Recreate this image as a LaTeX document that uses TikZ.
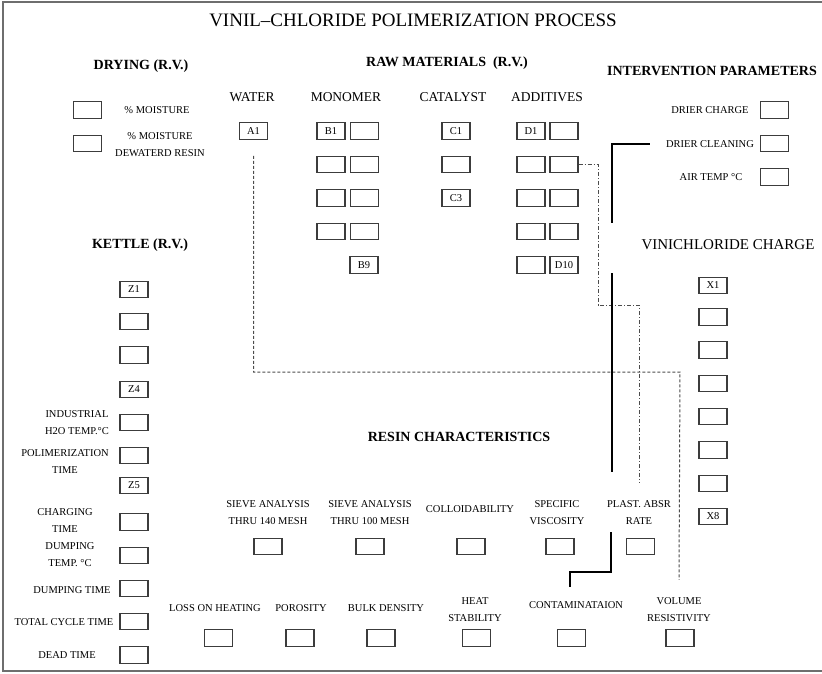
\documentclass[tikz,border=0pt]{standalone}
\usepackage{fontspec}
\setmainfont{Liberation Serif}
\usetikzlibrary{positioning}
\definecolor{boxgray}{RGB}{60,60,60}
\definecolor{framegray}{RGB}{110,110,110}

\begin{document}
\begin{tikzpicture}[x=1pt, y=-1pt,
  every node/.style={font=\fontsize{10.5}{17}\selectfont, text=black},
  valbox/.style={draw=boxgray, line width=1.3pt, minimum width=28pt, minimum height=16.5pt, inner sep=0pt},
  lbl/.style={align=center, inner sep=1pt},
  heading/.style={font=\fontsize{14}{16}\selectfont\bfseries, text=black},
  colhead/.style={font=\fontsize{13.5}{16}\selectfont},
  dashline/.style={draw=black!70, dash pattern=on 3pt off 2pt, line width=1pt},
  dotline/.style={draw=black!70, dash pattern=on 4pt off 2pt on 1pt off 2pt, line width=1pt},
  thickline/.style={draw=black, line width=2.8pt}]
\useasboundingbox (0,0) rectangle (822,673);
\draw[framegray, line width=1.6pt] (822,2) -- (3,2) -- (3,671) -- (822,671);

\node[font=\fontsize{19}{22}\selectfont] (title) at (413,20) {VINIL–CHLORIDE POLIMERIZATION PROCESS};

\node[heading] (drying) at (141,66) {DRYING (R.V.)};
\node[valbox] (dr1) at (87.5,110) {};
\node[valbox] (dr2) at (87.5,143.5) {};
\node[lbl] (drl1) at (157,110) {\% MOISTURE};
\node[lbl] (drl2) at (160,145) {\% MOISTURE\\DEWATERD RESIN};

\node[heading] (raw) at (447,63) {RAW MATERIALS\ \ (R.V.)};
\node[colhead] (water) at (252,97) {WATER};
\node[colhead] (monomer) at (346,97) {MONOMER};
\node[colhead] (catalyst) at (453,97) {CATALYST};
\node[colhead] (additives) at (547,97) {ADDITIVES};
\node[valbox] (a1) at (253.5,131) {A1};
\node[valbox] (b1) at (331,131) {B1};
\node[valbox] (b2) at (364.5,131) {};
\node[valbox] (b3) at (331,164.5) {};
\node[valbox] (b4) at (364.5,164.5) {};
\node[valbox] (b5) at (331,198) {};
\node[valbox] (b6) at (364.5,198) {};
\node[valbox] (b7) at (331,231.5) {};
\node[valbox] (b8) at (364.5,231.5) {};
\node[valbox] (b9) at (364,265) {B9};
\node[valbox] (c1) at (456,131) {C1};
\node[valbox] (c2) at (456,164.5) {};
\node[valbox] (c3) at (456,198) {C3};
\node[valbox] (d1) at (531,131) {D1};
\node[valbox] (d2) at (564,131) {};
\node[valbox] (d3) at (531,164.5) {};
\node[valbox] (d4) at (564,164.5) {};
\node[valbox] (d5) at (531,198) {};
\node[valbox] (d6) at (564,198) {};
\node[valbox] (d7) at (531,231.5) {};
\node[valbox] (d8) at (564,231.5) {};
\node[valbox] (d9) at (531,265) {};
\node[valbox] (d10) at (564,265) {D10};

\node[heading] (interv) at (712,71) {INTERVENTION PARAMETERS};
\node[valbox] (ip1) at (774.5,110) {};
\node[valbox] (ip2) at (774.5,143.5) {};
\node[valbox] (ip3) at (774.5,177) {};
\node[lbl] (ipl1) at (710,110) {DRIER CHARGE};
\node[lbl] (ipl2) at (710,144) {DRIER CLEANING};
\node[lbl] (ipl3) at (711,177) {AIR TEMP °C};

\node[heading] (kettle) at (140,245) {KETTLE (R.V.)};
\node[valbox] (k1) at (134,289.5) {Z1};
\node[valbox] (k2) at (134,321.5) {};
\node[valbox] (k3) at (134,355) {};
\node[valbox] (k4) at (134,389.5) {Z4};
\node[valbox] (k5) at (134,422.5) {};
\node[valbox] (k6) at (134,455.5) {};
\node[valbox] (k7) at (134,485.5) {Z5};
\node[valbox] (k8) at (134,522) {};
\node[valbox] (k9) at (134,555.5) {};
\node[valbox] (k10) at (134,588.5) {};
\node[valbox] (k11) at (134,621.5) {};
\node[valbox] (k12) at (134,655) {};
\node[lbl] (kl5) at (77,423) {INDUSTRIAL\\H2O TEMP.°C};
\node[lbl] (kl6) at (65,462) {POLIMERIZATION\\TIME};
\node[lbl] (kl8) at (65,521) {CHARGING\\TIME};
\node[lbl] (kl9) at (70,555) {DUMPING\\TEMP. °C};
\node[lbl] (kl10) at (72,590) {DUMPING TIME};
\node[lbl] (kl11) at (64,622) {TOTAL CYCLE TIME};
\node[lbl] (kl12) at (67,655) {DEAD TIME};

\node[font=\fontsize{15}{18}\selectfont] (vcharge) at (728,245) {VINICHLORIDE CHARGE};
\node[valbox] (x1) at (713,285.5) {X1};
\node[valbox] (x2) at (713,317) {};
\node[valbox] (x3) at (713,350) {};
\node[valbox] (x4) at (713,383.5) {};
\node[valbox] (x5) at (713,416.5) {};
\node[valbox] (x6) at (713,450) {};
\node[valbox] (x7) at (713,483.5) {};
\node[valbox] (x8) at (713,516.5) {X8};

\node[heading] (resin) at (459,437) {RESIN CHARACTERISTICS};
\node[valbox] (r1) at (268,546.5) {};
\node[valbox] (r2) at (370,546.5) {};
\node[valbox] (r3) at (471,546.5) {};
\node[valbox] (r4) at (560,546.5) {};
\node[valbox] (r5) at (640.5,546.5) {};
\node[lbl] (rl1) at (268,513) {SIEVE ANALYSIS\\THRU 140 MESH};
\node[lbl] (rl2) at (370,513) {SIEVE ANALYSIS\\THRU 100 MESH};
\node[lbl] (rl3) at (470,509) {COLLOIDABILITY};
\node[lbl] (rl4) at (557,513) {SPECIFIC\\VISCOSITY};
\node[lbl] (rl5) at (639,513) {PLAST. ABSR\\RATE};
\node[valbox] (r6) at (218.5,638) {};
\node[valbox] (r7) at (300,638) {};
\node[valbox] (r8) at (381,638) {};
\node[valbox] (r9) at (476.5,638) {};
\node[valbox] (r10) at (571.5,638) {};
\node[valbox] (r11) at (680,638) {};
\node[lbl] (rl6) at (215,608) {LOSS ON HEATING};
\node[lbl] (rl7) at (301,608) {POROSITY};
\node[lbl] (rl8) at (386,608) {BULK DENSITY};
\node[lbl] (rl9) at (475,610) {HEAT\\STABILITY};
\node[lbl] (rl10) at (576,605) {CONTAMINATAION};
\node[lbl] (rl11) at (679,610) {VOLUME\\RESISTIVITY};

\coordinate (vbend) at (680,372);
\coordinate (abend) at (598,305);
\coordinate (t1) at (612,223);
\coordinate (t2) at (612,273);
\coordinate (t3) at (612,472);
\coordinate (t4) at (611,532);
\coordinate (t5) at (570,587);
\draw[dashline] ([yshift=-16pt]a1.south) |- (vbend) -- ([yshift=17pt]rl11.north);
\draw[dotline] (d4.east) -| (abend) -| ([yshift=17pt]rl5.north);
\draw[thickline] ([xshift=-15pt]ipl2.west) -| (t1);
\draw[thickline] (t2) -- (t3);
\draw[thickline] (t4) -- ++(0,40) -| (t5);
\end{tikzpicture}
\end{document}
